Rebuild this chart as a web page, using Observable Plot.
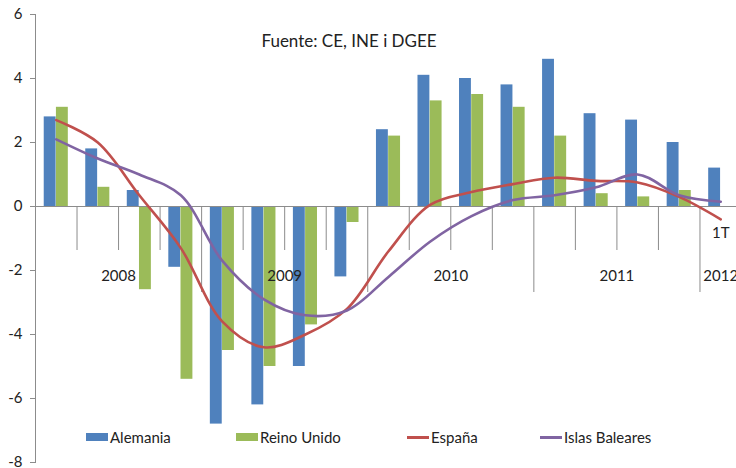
<!DOCTYPE html>
<html>
<head>
<meta charset="utf-8">
<script src="https://cdn.jsdelivr.net/npm/d3@7"></script>
<script src="https://cdn.jsdelivr.net/npm/@observablehq/plot@0.6"></script>
<style>
  html, body { margin: 0; padding: 0; background: #fff; }
  #wrap { position: relative; width: 736px; height: 468px; overflow: hidden; font-family: Lato, "Open Sans", sans-serif; }
  #legend { position: absolute; top: 427px; left: 0; width: 736px; height: 20px; font-size: 15px; color: #222; }
  .item { position: absolute; top: 0; display: flex; align-items: center; height: 20px; }
  .sw { display: inline-block; width: 22px; height: 8px; margin-right: 2px; }
  .ln { display: inline-block; width: 22px; height: 3px; margin-right: 2px; }
</style>
</head>
<body>
<div id="wrap">
  <div id="chart"></div>
  <div id="legend"></div>
</div>
<script>
// ---- data ----
const quarters = ["2008T1","2008T2","2008T3","2008T4","2009T1","2009T2","2009T3","2009T4",
                  "2010T1","2010T2","2010T3","2010T4","2011T1","2011T2","2011T3","2011T4","2012T1"];
const alemania    = [2.8, 1.8, 0.5, -1.9, -6.8, -6.2, -5.0, -2.2, 2.4, 4.1, 4.0, 3.8, 4.6, 2.9, 2.7, 2.0, 1.2];
const reinoUnido  = [3.1, 0.6, -2.6, -5.4, -4.5, -5.0, -3.7, -0.5, 2.2, 3.3, 3.5, 3.1, 2.2, 0.4, 0.3, 0.5, null];
const espana      = [2.7, 2.0, 0.35, -1.3, -3.6, -4.4, -4.0, -3.2, -1.4, 0.05, 0.45, 0.7, 0.9, 0.8, 0.75, 0.3, -0.4];
const baleares    = [2.1, 1.5, 1.0, 0.35, -1.7, -2.9, -3.4, -3.25, -2.2, -1.1, -0.3, 0.2, 0.35, 0.6, 1.0, 0.35, 0.15];
const yearLabels  = [{q: "2008T3", label: "2008"}, {q: "2009T3", label: "2009"},
                     {q: "2010T3", label: "2010"}, {q: "2011T3", label: "2011"}];
const lastYear    = {q: "2012T1", label: "2012", quarterLabel: "1T"};
const yTicks      = [-8, -6, -4, -2, 0, 2, 4, 6];
const seriesNames = ["Alemania", "Reino Unido", "España", "Islas Baleares"];
const colors      = ["#4F81BD", "#9BBB59", "#C0504D", "#8064A2"];
const title       = "Fuente: CE, INE i DGEE";

// ---- tables ----
const rowsA = quarters.map((q, i) => ({q, v: alemania[i]}));
const rowsR = quarters.map((q, i) => ({q, v: reinoUnido[i]})).filter(d => d.v != null);
const rowsE = quarters.map((q, i) => ({q, v: espana[i]}));
const rowsB = quarters.map((q, i) => ({q, v: baleares[i]}));
const sepShort = quarters.slice(1).filter(q => !q.endsWith("T1"));
const sepLong  = quarters.slice(1).filter(q => q.endsWith("T1"));

const step = 706 / quarters.length;
const axisGrey = "#8c8c8c";

const chart = Plot.plot({
  width: 736,
  height: 468,
  marginTop: 14,
  marginBottom: 6,
  marginLeft: 35,
  marginRight: 0,
  style: {fontFamily: "Lato, 'Open Sans', sans-serif", fontSize: "15px", color: "#222", background: "transparent", overflow: "visible"},
  x: {domain: quarters, range: [35, 741], paddingInner: 0.42, paddingOuter: 0.21, round: false, axis: null},
  y: {domain: [-8, 6], axis: null},
  marks: [
    Plot.barY(rowsA, {x: "q", y: "v", fill: colors[0], insetRight: 12.2}),
    Plot.barY(rowsR, {x: "q", y: "v", fill: colors[1], insetLeft: 12.2}),
    Plot.ruleY([0], {stroke: axisGrey, strokeWidth: 1}),
    Plot.ruleX(sepShort, {x: d => d, y1: 0, y2: 0, insetBottom: -44, dx: -step / 2, stroke: axisGrey}),
    Plot.ruleX(sepLong, {x: d => d, y1: 0, y2: 0, insetBottom: -86, dx: -step / 2, stroke: axisGrey}),
    Plot.frame({anchor: "left", stroke: axisGrey}),
    Plot.axisY({ticks: yTicks, label: null, tickSize: 5, tickPadding: 8, tickFormat: d => String(d), stroke: axisGrey, fill: "#222", fontSize: 15}),
    Plot.lineY(rowsE, {x: "q", y: "v", stroke: colors[2], strokeWidth: 2.6, curve: "catmull-rom"}),
    Plot.lineY(rowsB, {x: "q", y: "v", stroke: colors[3], strokeWidth: 2.6, curve: "catmull-rom"}),
    Plot.text(yearLabels, {x: "q", y: () => 0, text: "label", dx: -step / 2, dy: 70, fontSize: 15, fill: "#222"}),
    Plot.text([lastYear], {x: "q", y: () => 0, text: "label", dy: 70, fontSize: 15, fill: "#222"}),
    Plot.text([lastYear], {x: "q", y: () => 0, text: "quarterLabel", dy: 27, fontSize: 15, fill: "#222"}),
    Plot.text([title], {frameAnchor: "top", dx: -37, dy: 20, fontSize: 17, fill: "#222"})
  ]
});
document.getElementById("chart").appendChild(chart);

// ---- legend (inside plot area) ----
const legendLeft = [86, 236, 407, 540];
const legend = document.getElementById("legend");
seriesNames.forEach((name, i) => {
  const item = document.createElement("div");
  item.className = "item";
  item.style.left = legendLeft[i] + "px";
  const sw = document.createElement("span");
  sw.className = i < 2 ? "sw" : "ln";
  sw.style.background = colors[i];
  const lab = document.createElement("span");
  lab.textContent = name;
  item.appendChild(sw);
  item.appendChild(lab);
  legend.appendChild(item);
});
</script>
</body>
</html>
